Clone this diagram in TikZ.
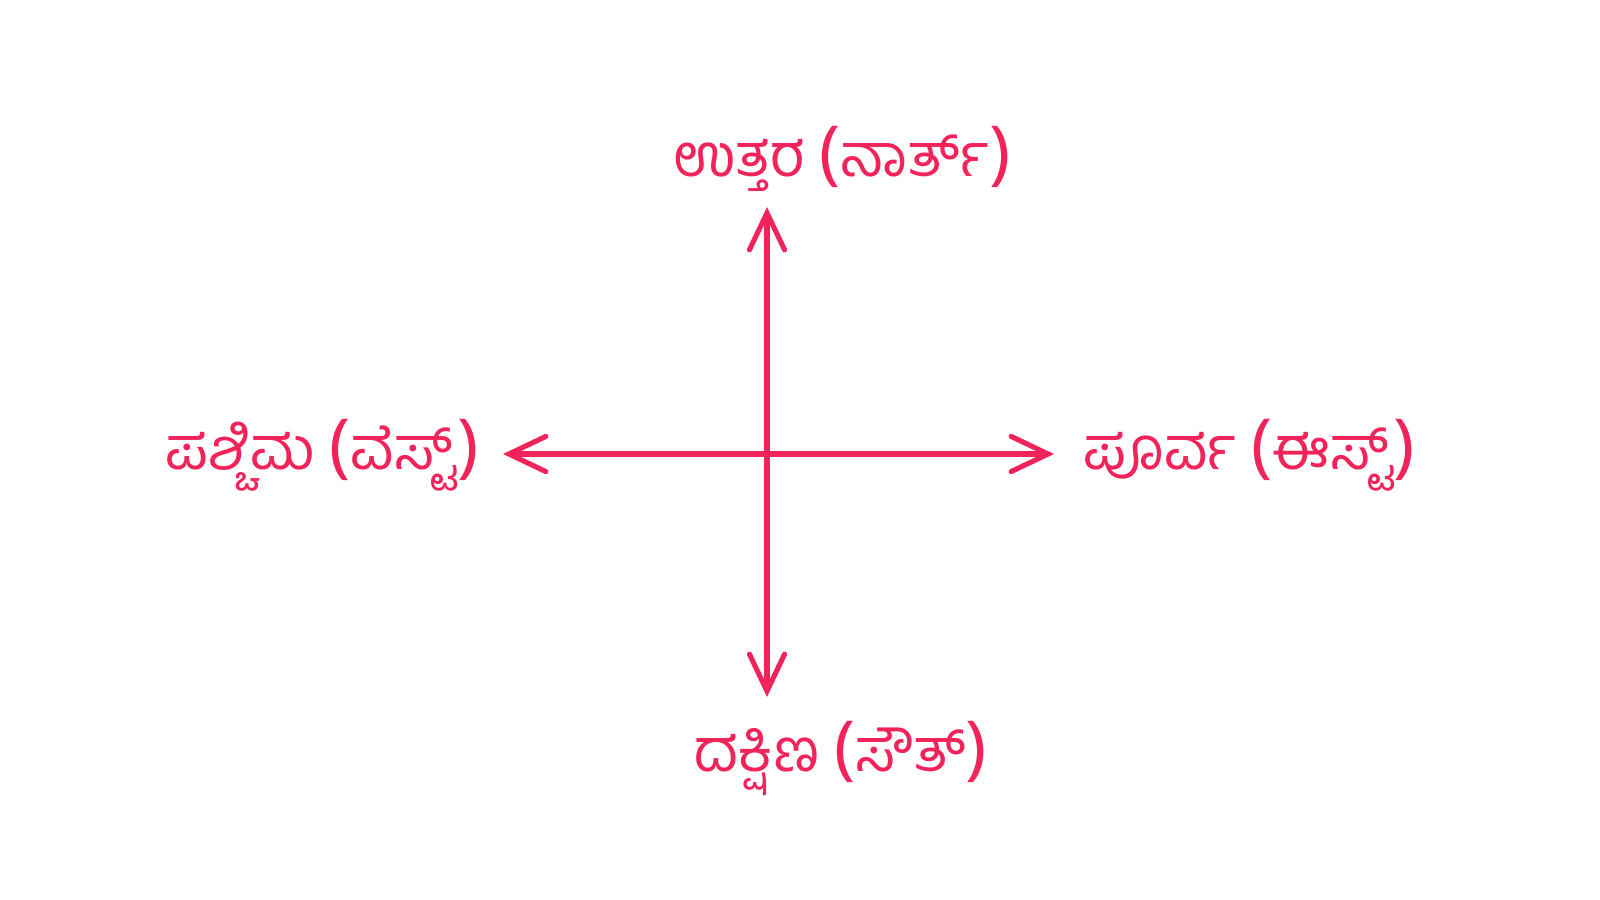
\documentclass[tikz,border=0pt]{standalone}
\usepackage{fontspec}
\newfontfamily\kannadafont[Script=Kannada]{Hind Mysuru}
\newfontfamily\parenfont{Noto Sans}
\usetikzlibrary{arrows.meta,positioning}
\definecolor{compass}{RGB}{240,36,90}
\newcommand{\lp}{{\parenfont\fontsize{20}{20}\selectfont(}}
\newcommand{\rp}{{\parenfont\fontsize{20}{20}\selectfont)}}

\begin{document}
\begin{tikzpicture}[
  x=0.01cm, y=-0.01cm,
  dirlabel/.style={text=compass, font=\kannadafont\fontsize{17}{20}\selectfont, inner sep=0pt},
  arrow/.style={-{Straight Barb[length=10.5pt, width=10pt, line cap=round]}, line width=1.45pt, draw=compass, line cap=round}
]
  \useasboundingbox (0,0) rectangle (1600,900);
  \coordinate (centre) at (767,454);
  \coordinate (northtip) at (767,207);
  \coordinate (southtip) at (767,697);
  \coordinate (westtip) at (503,454);
  \coordinate (easttip) at (1054,454);

  \node[dirlabel] (north) at (842,159) {ಉತ್ತರ \lp ನಾರ್ತ್\rp};
  \node[dirlabel] (south) at (841,758) {ದಕ್ಷಿಣ \lp ಸೌತ್\rp};
  \node[dirlabel, anchor=east] (west) at (479,455) {ಪಶ್ಚಿಮ \lp ವೆಸ್ಟ್\rp};
  \node[dirlabel, anchor=west] (east) at (1083,455) {ಪೂರ್ವ \lp ಈಸ್ಟ್\rp};

  \draw[arrow] (centre) -- (northtip);
  \draw[arrow] (centre) -- (southtip);
  \draw[arrow] (centre) -- (westtip);
  \draw[arrow] (centre) -- (easttip);
\end{tikzpicture}
\end{document}
